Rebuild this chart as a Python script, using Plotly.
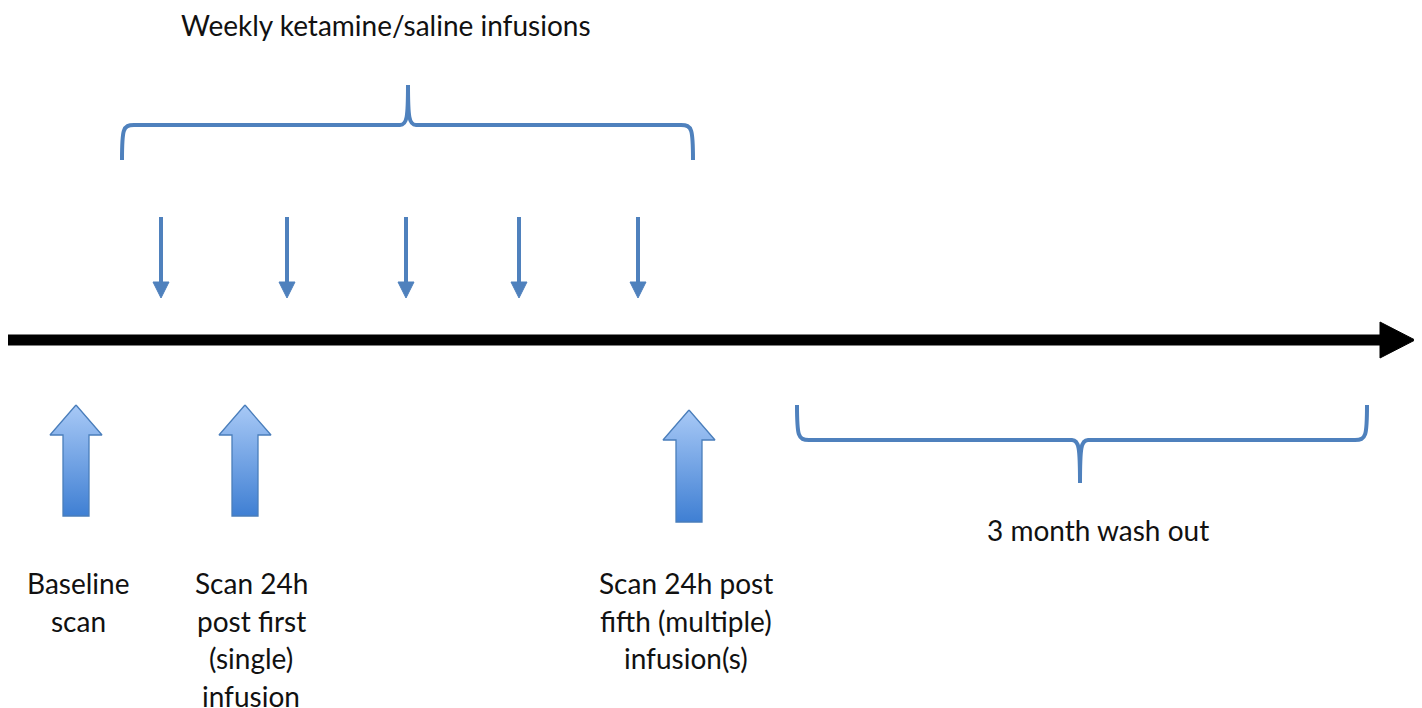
import plotly.graph_objects as go

# ---- timeline data (x in timeline units, y in layout units: 0 at top) ----
infusion_times = [161, 287, 406, 519, 638]          # weekly infusions (down arrows)
scan_times = [76, 245, 689]                          # scan sessions (up arrows)
scan_tops = [405, 405, 410]
scan_bottoms = [516, 516, 522]
scan_labels = [
    ["Baseline", "scan"],
    ["Scan 24h", "post first", "(single)", "infusion"],
    ["Scan 24h post", "fifth (multiple)", "infusion(s)"],
]
scan_label_x = [78, 251, 686]
infusion_period = [122, 693]
washout_period = [797, 1367]
title_text = "Weekly ketamine/saline infusions"
washout_text = "3 month wash out"
timeline_span = [8, 1415]

BLUE = "#4f81bd"
FONT = "Lato, 'Open Sans', sans-serif"
FS = 28

fig = go.Figure()
shapes = []

# main black timeline arrow
y_axis = 340
head_len = 35
shapes.append(dict(type="line", x0=timeline_span[0], x1=timeline_span[1] - head_len + 2,
                   y0=y_axis, y1=y_axis, line=dict(color="black", width=11)))
hx = timeline_span[1]
shapes.append(dict(type="path",
                   path=f"M {hx - head_len},{y_axis - 18} L {hx},{y_axis} L {hx - head_len},{y_axis + 18} Z",
                   fillcolor="black", line=dict(color="black", width=1)))

# infusion down arrows
for x in infusion_times:
    shapes.append(dict(type="line", x0=x, x1=x, y0=217, y1=284, line=dict(color=BLUE, width=4)))
    shapes.append(dict(type="path",
                       path=f"M {x - 8},{282} L {x + 8},{282} L {x},{298} Z",
                       fillcolor=BLUE, line=dict(color=BLUE, width=1)))

# top brace (opens downward)
a, b = infusion_period
m = (a + b) / 2 + 0.5
yh, ye, yp = 125, 160, 85
top_brace = (f"M {a},{ye} C {a},{yh + 4} {a + 1},{yh} {a + 12},{yh} "
             f"L {m - 8},{yh} C {m - 1},{yh} {m},{yh - 8} {m},{yp} "
             f"C {m},{yh - 8} {m + 1},{yh} {m + 8},{yh} "
             f"L {b - 12},{yh} C {b - 1},{yh} {b},{yh + 4} {b},{ye}")
shapes.append(dict(type="path", path=top_brace, line=dict(color=BLUE, width=4)))

# bottom brace (washout)
a, b = washout_period
m = (a + b) / 2 - 2
yh, ye, yp = 440, 405, 483
bot_brace = (f"M {a},{ye} C {a},{yh - 4} {a + 1},{yh} {a + 12},{yh} "
             f"L {m - 8},{yh} C {m - 1},{yh} {m},{yh + 8} {m},{yp} "
             f"C {m},{yh + 8} {m + 1},{yh} {m + 8},{yh} "
             f"L {b - 12},{yh} C {b - 1},{yh} {b},{yh - 4} {b},{ye}")
shapes.append(dict(type="path", path=bot_brace, line=dict(color=BLUE, width=4)))

# scan up arrows with vertical gradient fill
for x, yt, yb in zip(scan_times, scan_tops, scan_bottoms):
    hw, sw, hh = 26, 13, 30
    xs = [x, x + hw, x + sw, x + sw, x - sw, x - sw, x - hw, x]
    ys = [yt, yt + hh, yt + hh, yb, yb, yt + hh, yt + hh, yt]
    fig.add_trace(go.Scatter(
        x=xs, y=ys, mode="lines", fill="toself",
        line=dict(color="#4a7ebb", width=1.3),
        fillgradient=dict(type="vertical",
                          colorscale=[[0, "#3f7fd3"], [1, "#a8c9f6"]]),
        hoverinfo="skip", showlegend=False))

annotations = []
annotations.append(dict(x=386, y=25, text=title_text, showarrow=False,
                        xanchor="center", yanchor="middle", borderpad=0,
                        font=dict(family=FONT, size=FS, color="#111")))
annotations.append(dict(x=1098, y=530, text=washout_text, showarrow=False,
                        xanchor="center", yanchor="middle",
                        font=dict(family=FONT, size=FS, color="#111")))
for lx, lines in zip(scan_label_x, scan_labels):
    for i, line in enumerate(lines):
        annotations.append(dict(x=lx, y=583 + 37.5 * i, text=line, showarrow=False,
                                xanchor="center", yanchor="middle", borderpad=0,
                                font=dict(family=FONT, size=FS, color="#111")))

# the page body has an 8px margin: shrink the figure and shift the ranges so
# that layout units coincide with page pixels
fig.update_layout(
    width=1414, height=700,
    margin=dict(l=0, r=0, t=0, b=0),
    paper_bgcolor="white", plot_bgcolor="white",
    xaxis=dict(range=[8, 1422], visible=False, fixedrange=True),
    yaxis=dict(range=[708, 8], visible=False, fixedrange=True),
    shapes=shapes, annotations=annotations, showlegend=False,
)

fig.write_html("out.html")
